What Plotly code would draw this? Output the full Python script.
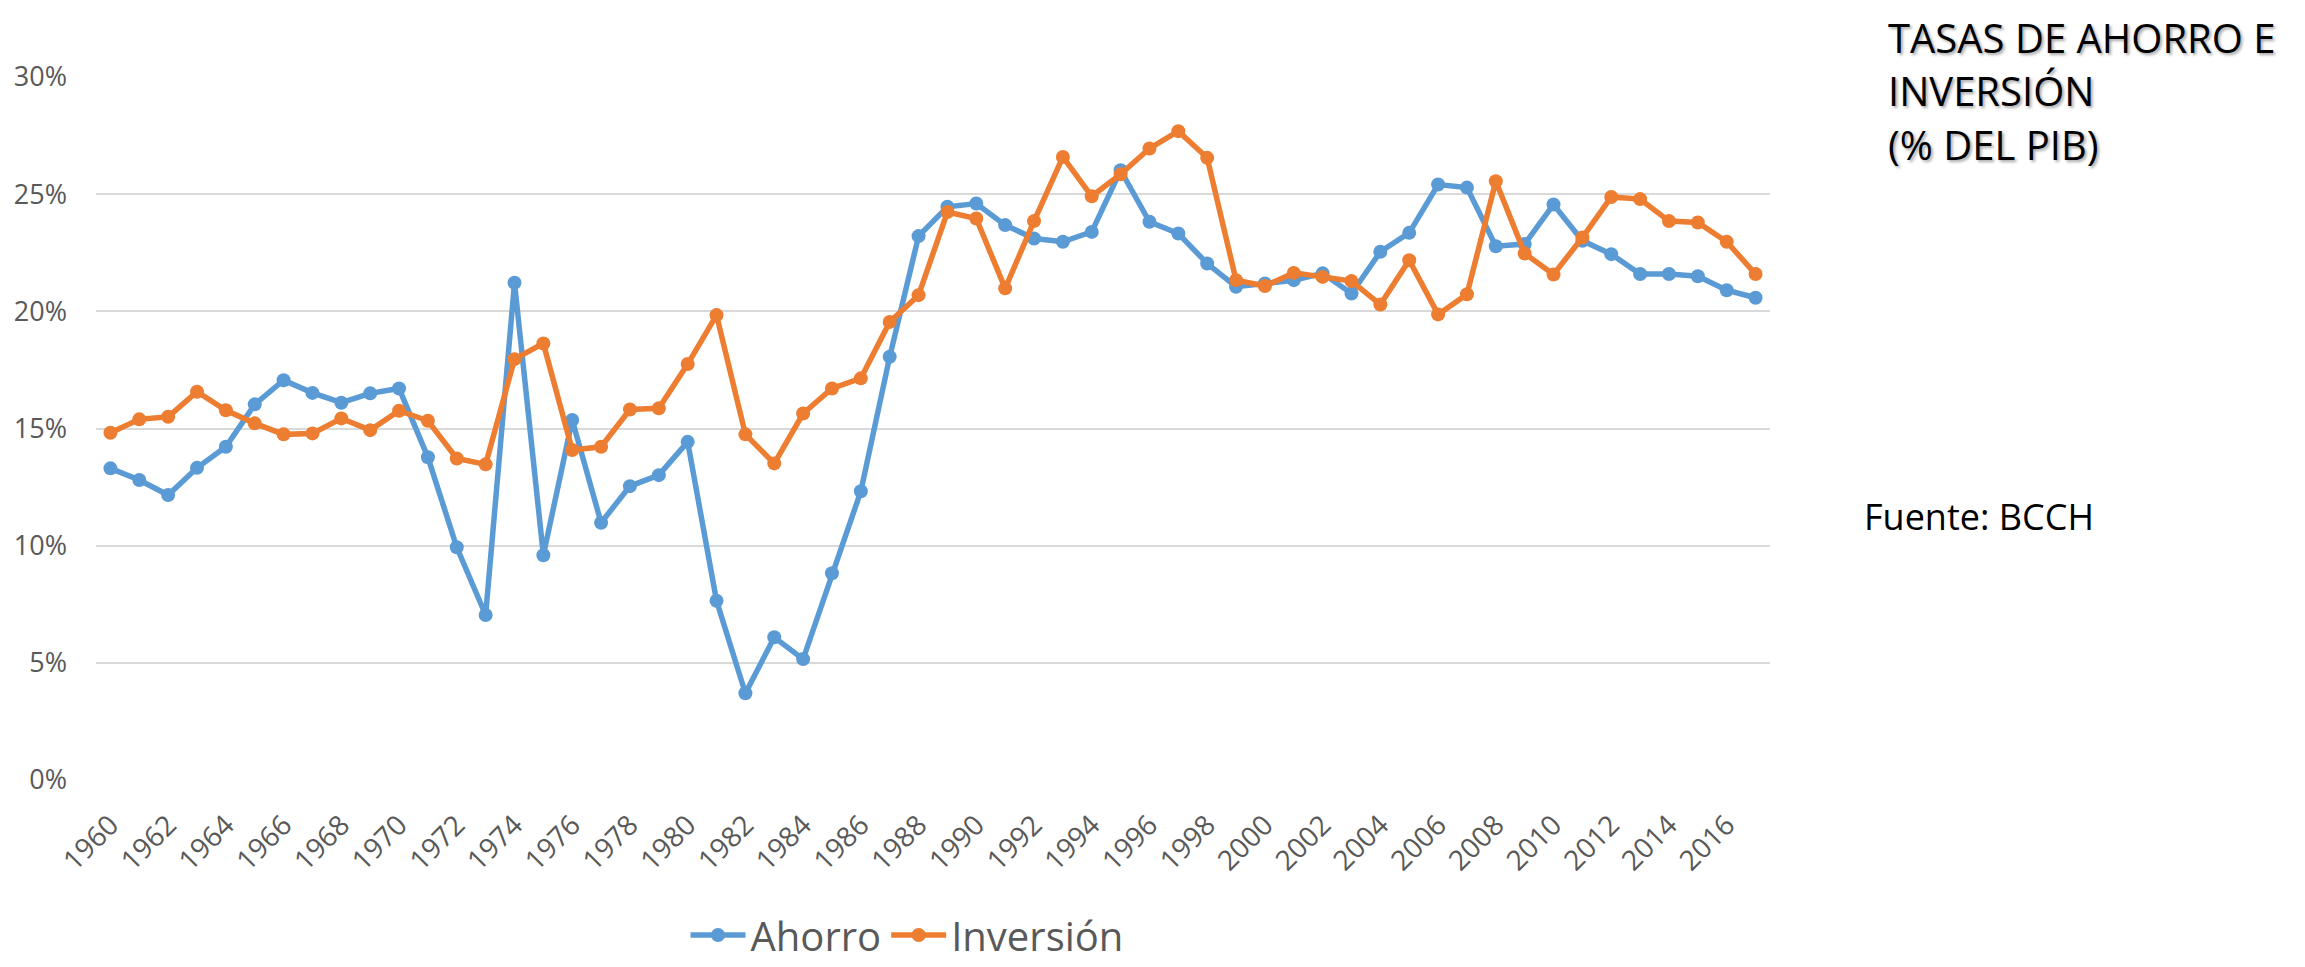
import plotly.graph_objects as go

years = list(range(1960, 2018))

ahorro = [13.30, 12.80, 12.16, 13.32, 14.22, 16.03, 17.06, 16.52, 16.10, 16.50,
          16.71, 13.77, 9.93, 7.04, 21.22, 9.59, 15.36, 10.98, 12.54, 13.01,
          14.43, 7.65, 3.70, 6.09, 5.16, 8.82, 12.32, 18.06, 23.21, 24.46,
          24.60, 23.68, 23.11, 22.97, 23.39, 26.02, 23.82, 23.32, 22.04, 21.05,
          21.19, 21.33, 21.62, 20.76, 22.54, 23.35, 25.41, 25.28, 22.78, 22.87,
          24.56, 23.01, 22.44, 21.59, 21.59, 21.50, 20.90, 20.58]

inversion = [14.82, 15.39, 15.50, 16.57, 15.78, 15.22, 14.75, 14.79, 15.43, 14.93,
             15.76, 15.33, 13.72, 13.47, 17.96, 18.63, 14.08, 14.22, 15.81, 15.86,
             17.75, 19.84, 14.75, 13.51, 15.64, 16.71, 17.14, 19.55, 20.69, 24.24,
             23.96, 20.98, 23.85, 26.59, 24.91, 25.85, 26.95, 27.69, 26.55, 21.33,
             21.08, 21.64, 21.47, 21.29, 20.29, 22.18, 19.87, 20.73, 25.55, 22.47,
             21.57, 23.15, 24.88, 24.79, 23.85, 23.79, 22.97, 21.59]

year_ticks = list(range(1960, 2018, 2))
y_ticks = [0, 5, 10, 15, 20, 25, 30]

title_lines = ["TASAS DE AHORRO E", "INVERSIÓN", "(% DEL PIB)"]
source_text = "Fuente: BCCH"

FONT = "Open Sans, Noto Sans, sans-serif"
BLUE = "#5B9BD5"
ORANGE = "#ED7D31"
GRID = "#D9D9D9"
TICK = "#595959"

fig = go.Figure()
fig.add_trace(go.Scatter(x=years, y=ahorro, name="Ahorro", mode="lines+markers",
                         line=dict(color=BLUE, width=5.5),
                         marker=dict(color=BLUE, size=14, symbol="circle")))
fig.add_trace(go.Scatter(x=years, y=inversion, name="Inversión", mode="lines+markers",
                         line=dict(color=ORANGE, width=5.5),
                         marker=dict(color=ORANGE, size=14, symbol="circle")))

# page body has an 8px margin at top/left; work in page coordinates
OFF = 8
W, H = 2305 - OFF, 967 - OFF
L = 96 - OFF
T = 77 - OFF
R = W - (1770 - OFF)
B = H - (780 - OFF)
PW = W - L - R
PH = H - T - B

def px_x(x):
    return (x - OFF - L) / PW

def px_y(y):
    return (H - B - (y - OFF)) / PH

annotations = []
centers = [38, 90, 145]
for line, cy in zip(title_lines, centers):
    annotations.append(dict(text=line, xref="paper", yref="paper",
                            x=px_x(1886), y=px_y(cy), xanchor="left", yanchor="middle",
                            showarrow=False, align="left",
                            font=dict(family=FONT, size=40, color="black",
                                      shadow="2px 2px 3px rgba(0,0,0,0.35)")))
annotations.append(dict(text=source_text, xref="paper", yref="paper",
                        x=px_x(1862), y=px_y(516), xanchor="left", yanchor="middle",
                        showarrow=False,
                        font=dict(family=FONT, size=36, color="black")))

fig.update_layout(
    width=W, height=H,
    margin=dict(l=L, r=R, t=T, b=B, autoexpand=False),
    paper_bgcolor="white", plot_bgcolor="white",
    font=dict(family=FONT, color=TICK),
    showlegend=True,
    legend=dict(orientation="h", xref="container", yref="container",
                x=(907 - OFF) / W, y=(H - (935 - OFF)) / H, xanchor="center", yanchor="middle",
                font=dict(family=FONT, size=40, color=TICK), itemwidth=55,
                traceorder="normal", bgcolor="rgba(0,0,0,0)"),
    annotations=annotations,
)
fig.update_xaxes(range=[1959.5, 2017.5], tickmode="array", tickvals=year_ticks,
                 ticktext=[str(y) for y in year_ticks], tickangle=-45,
                 tickfont=dict(family=FONT, size=28, color=TICK),
                 showgrid=False, zeroline=False, showline=False, ticks="",
                 ticklabelstandoff=22, automargin=False)
fig.update_yaxes(range=[0, 30], tickmode="array", tickvals=y_ticks,
                 ticktext=[f"{v}%" for v in y_ticks],
                 tickfont=dict(family=FONT, size=27, color=TICK),
                 showgrid=True, gridcolor=GRID, gridwidth=2, zeroline=False,
                 showline=False, ticks="", ticklabelstandoff=28, automargin=False)

fig.write_html("out.html")
